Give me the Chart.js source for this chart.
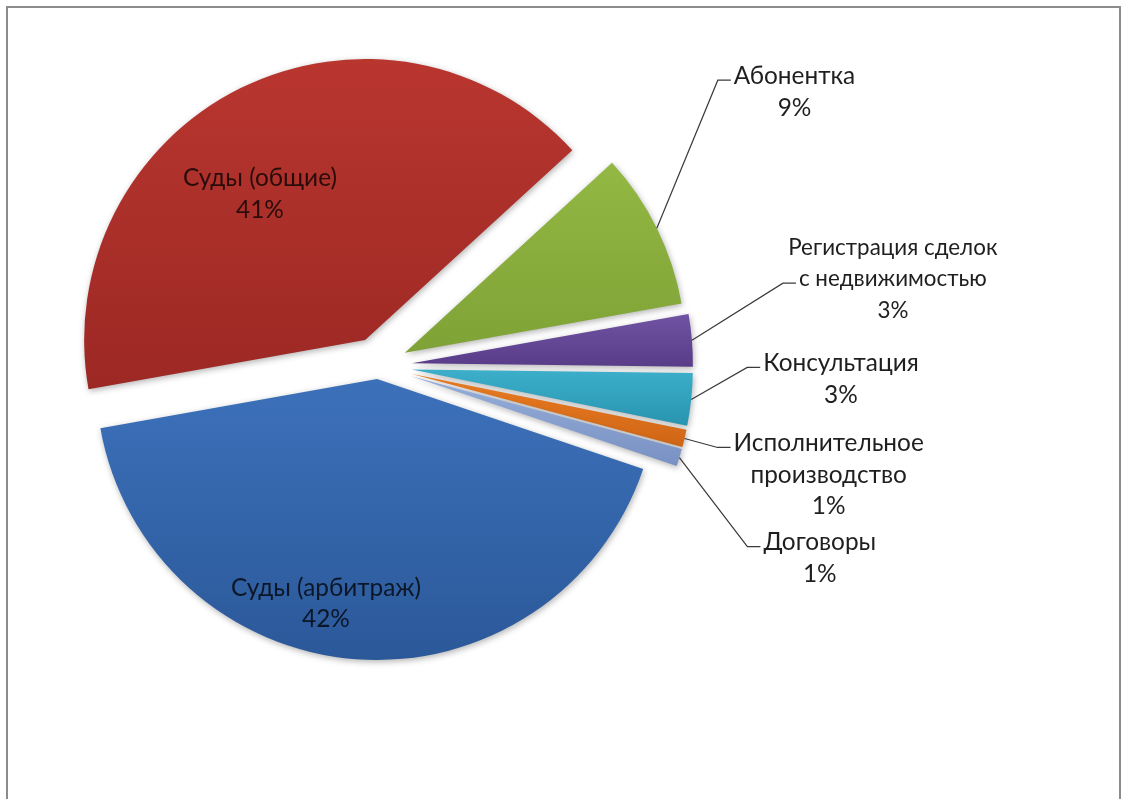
<!DOCTYPE html>
<html>
<head>
<meta charset="utf-8">
<script src="https://cdn.jsdelivr.net/npm/chart.js@4.4.1/dist/chart.umd.min.js"></script>
<style>
  html, body { margin: 0; padding: 0; background: #ffffff; }
  #wrap { position: relative; width: 1127px; height: 799px; overflow: hidden; background: #ffffff; }
  #frame { position: absolute; left: 6px; top: 6px; width: 1115px; height: 830px;
           border: 2px solid #8c8c8c; box-sizing: border-box; }
  #c { position: absolute; left: 0; top: 0; }
</style>
</head>
<body>
<div id="wrap">
  <div id="frame"></div>
  <canvas id="c" width="1127" height="799"></canvas>
</div>
<script>
// Structure of work by type of service, %
const categories = [
  'Абонентка',
  'Регистрация сделок\nс недвижимостью',
  'Консультация',
  'Исполнительное\nпроизводство',
  'Договоры',
  'Суды (арбитраж)',
  'Суды (общие)'
];
const shares = [9, 3, 3, 1, 1, 42, 41];

// Slice colours: lighter top, darker bottom
const palette = [
  ['#93B843', '#7FA236'],
  ['#7053A2', '#583C88'],
  ['#3CAFCB', '#2894AF'],
  ['#EA7B21', '#CF6616'],
  ['#96AED9', '#7891C3'],
  ['#3C71BA', '#2B5899'],
  ['#B9362F', '#9C2824']
];

// Pie geometry and per-slice explosion distance (px)
const PIE = { cx: 378, cy: 366, radius: 281, rotation: 47.5 };
const explode = [30, 34, 34, 34, 34, 13, 29];

// Label placement
const FONT_SIZE = 24.4;
const LINE_H = 31.5;
const TICK = 13;
const GAP = 3;
const outsideLayout = {
  0: { elbow: [61, -148], line: 0 },
  1: { elbow: [91, -57], line: 1, size: 22.4 },
  2: { elbow: [56, -32], line: 0 },
  3: { elbow: [33, 9], line: 0 },
  4: { elbow: [68, 89], line: 0 }
};
const insideLayout = {
  5: { shift: 8.5, frac: 0.82 },
  6: { shift: -9.5, frac: 0.64 }
};

const total = shares.reduce((a, b) => a + b, 0);
const DEG = Math.PI / 180;

function sliceAngles(i) {
  let a0 = (PIE.rotation - 90) * DEG;
  for (let k = 0; k < i; k++) a0 += shares[k] / total * 2 * Math.PI;
  const a1 = a0 + shares[i] / total * 2 * Math.PI;
  return [a0, a1];
}

function sliceFill(context) {
  const i = context.dataIndex;
  const chart = context.chart;
  const area = chart.chartArea;
  if (i === undefined || !area) return palette[0][0];
  const [c0, c1] = palette[i];
  const cx = (area.left + area.right) / 2;
  const cy = (area.top + area.bottom) / 2;
  const R = PIE.radius;
  const [a0, a1] = sliceAngles(i);
  const ys = [cy, cy + Math.sin(a0) * R, cy + Math.sin(a1) * R];
  for (const q of [-Math.PI / 2, Math.PI / 2, 3 * Math.PI / 2, 5 * Math.PI / 2]) {
    if (q > a0 && q < a1) ys.push(cy + Math.sin(q) * R);
  }
  const top = Math.min(...ys), bottom = Math.max(...ys);
  const g = chart.ctx.createLinearGradient(0, top, 0, bottom + 1);
  g.addColorStop(0, c0);
  g.addColorStop(1, c1);
  return g;
}

// Draw each slice pushed out along its bisector, with a soft shadow
const explodePlugin = {
  id: 'explodeSlices',
  beforeDatasetDraw(chart, args) {
    const ctx = chart.ctx;
    ctx.save();
    ctx.shadowColor = 'rgba(0,0,0,0.3)';
    ctx.shadowBlur = 6;
    ctx.shadowOffsetX = 1;
    ctx.shadowOffsetY = 2;
    args.meta.data.forEach((arc, i) => {
      const mid = (arc.startAngle + arc.endAngle) / 2;
      const d = explode[i];
      ctx.save();
      ctx.translate(Math.cos(mid) * d, Math.sin(mid) * d);
      arc.draw(ctx);
      ctx.restore();
    });
    ctx.restore();
    return false;
  }
};

// Category name + percentage labels, with leader lines for the thin slices
const labelPlugin = {
  id: 'sliceLabels',
  afterDatasetsDraw(chart) {
    const ctx = chart.ctx;
    const meta = chart.getDatasetMeta(0);
    ctx.save();
    ctx.textAlign = 'center';
    ctx.textBaseline = 'middle';
    meta.data.forEach((arc, i) => {
      const mid = (arc.startAngle + arc.endAngle) / 2;
      const d = explode[i];
      const vx = arc.x + Math.cos(mid) * d;
      const vy = arc.y + Math.sin(mid) * d;
      const R = arc.outerRadius;
      const lines = categories[i].split('\n').concat(shares[i] + '%');
      if (insideLayout[i]) {
        const L = insideLayout[i];
        ctx.font = FONT_SIZE + 'px Lato';
        const a = mid + L.shift * DEG;
        const bx = vx + Math.cos(a) * R * L.frac;
        const by = vy + Math.sin(a) * R * L.frac;
        ctx.fillStyle = 'rgba(0,0,0,0.76)';
        lines.forEach((t, k) => ctx.fillText(t, bx, by + (k - (lines.length - 1) / 2) * LINE_H));
      } else {
        const L = outsideLayout[i];
        ctx.font = (L.size || FONT_SIZE) + 'px Lato';
        const ax = vx + Math.cos(mid) * R;
        const ay = vy + Math.sin(mid) * R;
        const ex = ax + L.elbow[0];
        const ey = ay + L.elbow[1];
        const tx = ex + TICK;
        ctx.strokeStyle = '#3a3a3a';
        ctx.lineWidth = 1.2;
        ctx.beginPath();
        ctx.moveTo(ax, ay);
        ctx.lineTo(ex, ey);
        ctx.lineTo(tx, ey);
        ctx.stroke();
        const w = ctx.measureText(lines[L.line]).width;
        const bx = tx + GAP + w / 2;
        const y0 = ey - 4 - L.line * LINE_H;
        ctx.fillStyle = '#1f1f1f';
        lines.forEach((t, k) => ctx.fillText(t, bx, y0 + k * LINE_H));
      }
    });
    ctx.restore();
  }
};

const W = 1127, H = 799;
new Chart(document.getElementById('c'), {
  type: 'pie',
  data: {
    labels: categories,
    datasets: [{
      data: shares,
      backgroundColor: sliceFill,
      borderWidth: 0
    }]
  },
  options: {
    responsive: false,
    animation: false,
    events: [],
    radius: PIE.radius,
    rotation: PIE.rotation,
    layout: { padding: { left: 0, top: 0, right: W - 2 * PIE.cx, bottom: H - 2 * PIE.cy } },
    plugins: { legend: { display: false }, tooltip: { enabled: false } }
  },
  plugins: [explodePlugin, labelPlugin]
});
</script>
</body>
</html>
